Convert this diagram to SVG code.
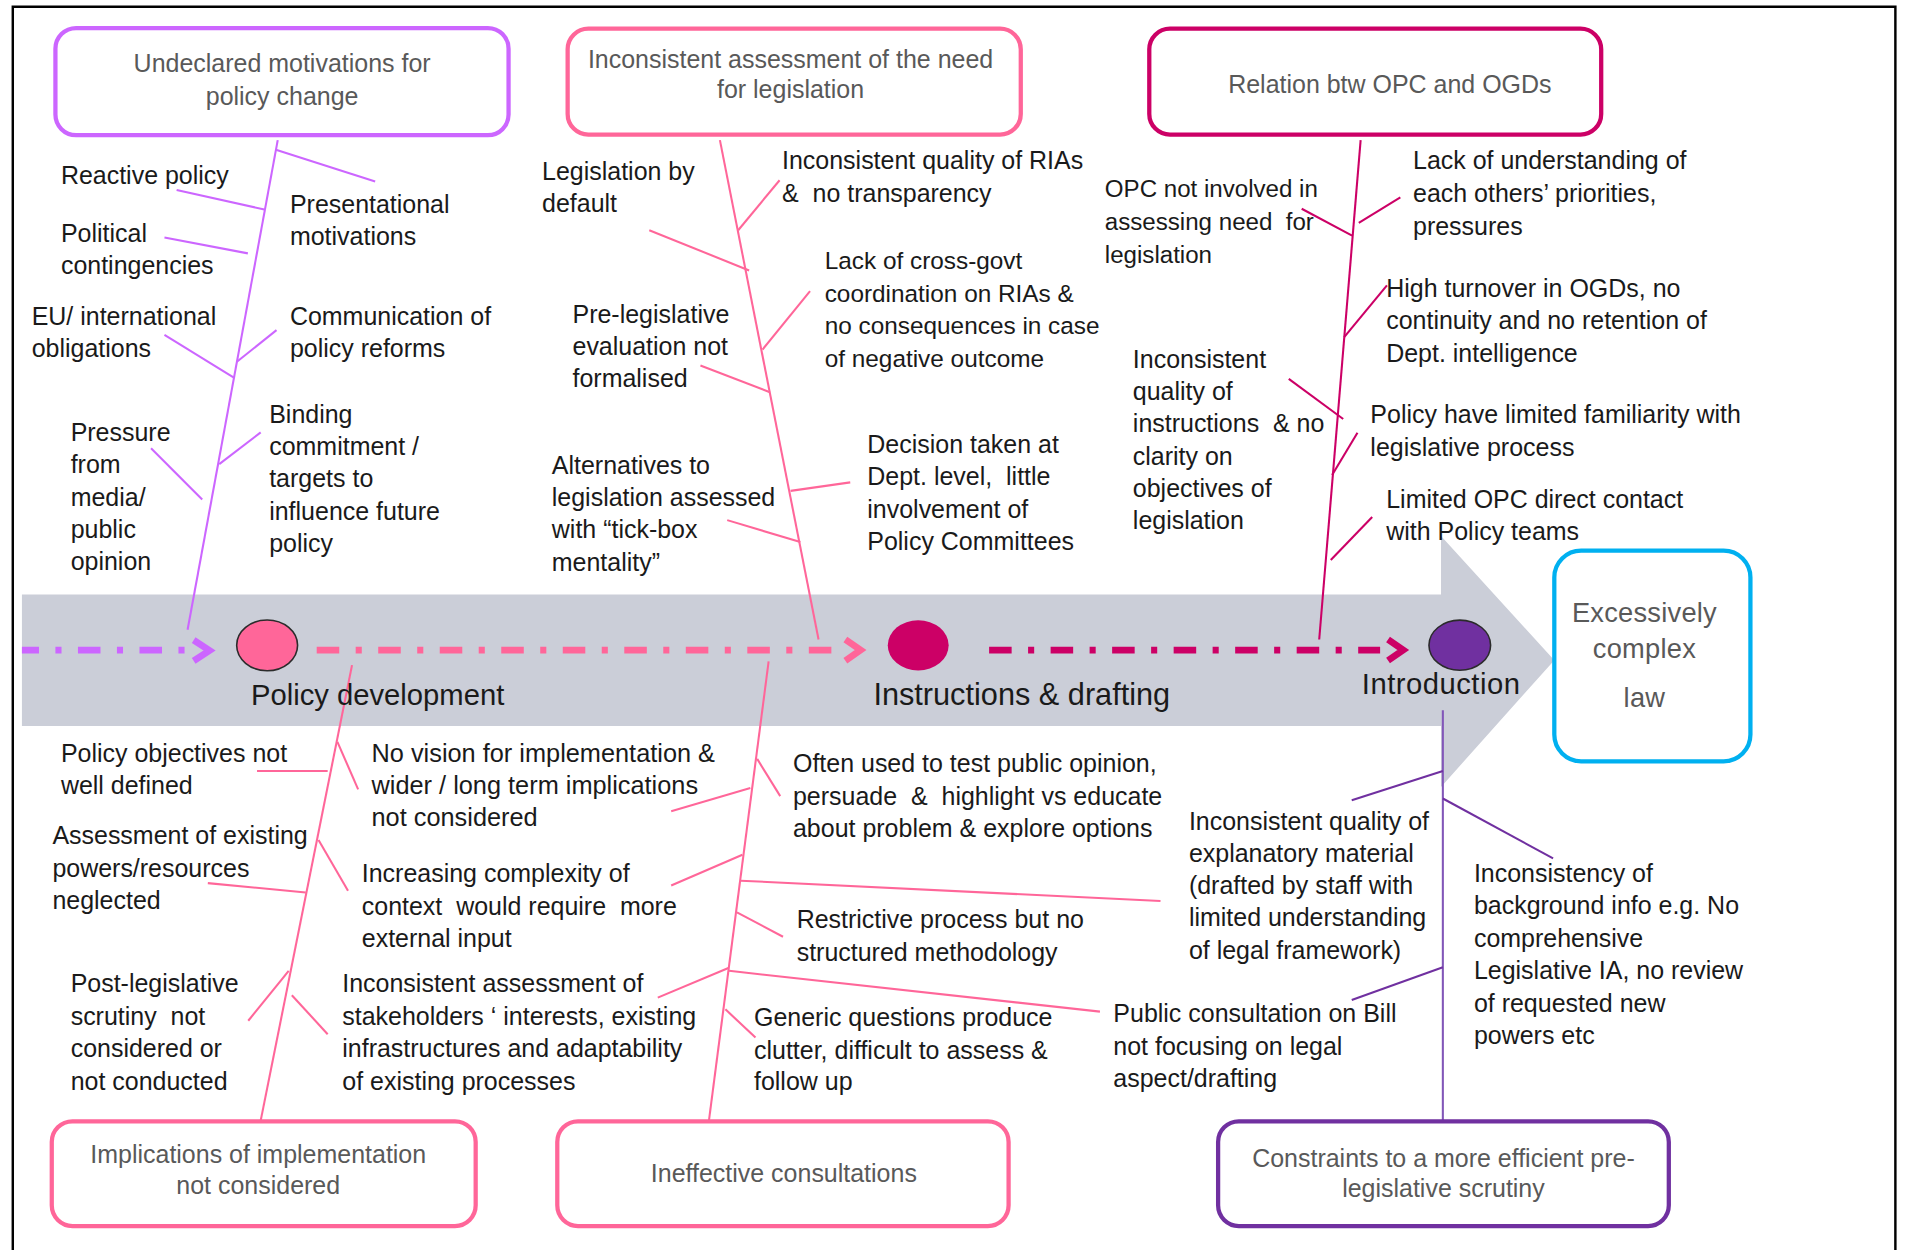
<svg xmlns="http://www.w3.org/2000/svg" width="1910" height="1250" viewBox="0 0 1910 1250">
<defs>
<style>
.t{font-family:"Liberation Sans",Arial,sans-serif;font-size:20.5px;fill:#1a1a1a}
.h{font-family:"Liberation Sans",Arial,sans-serif;font-size:20.5px;fill:#595959;text-anchor:middle}
.stage{font-family:"Liberation Sans",Arial,sans-serif;font-size:24px;fill:#1a1a1a}
.box{fill:#fff;stroke-width:3.5}
.bone{fill:none;stroke-width:1.7}
.dash{fill:none;stroke-width:5.5;stroke-dasharray:18.5 13.5 5 13.5}
.chev{fill:none;stroke-width:5.5;stroke-linejoin:miter;stroke-linecap:butt}
.vio{stroke:#cc66ff}
.pink{stroke:#ff6699}
.crim{stroke:#cc0066}
.purp{stroke:#7030a0}
</style>
</defs>
<rect width="1910" height="1250" fill="#fff"/>
<g transform="scale(1.21811)">
<path id="frame" d="M10.5,1030 V5.5 H1556 V1030" fill="none" stroke="#000" stroke-width="2"/>
<polygon id="process-arrow" points="18,488 1183,488 1183,440 1276,542 1183,646 1183,596 18,596" fill="#cbced8"/>

<g id="connectors">
<!-- top-left fishbone -->
<g class="bone vio">
<line x1="228" y1="115" x2="154" y2="517"/>
<line x1="145" y1="156" x2="217" y2="172"/>
<line x1="226.5" y1="123" x2="308" y2="149"/>
<line x1="135" y1="195" x2="203.5" y2="208"/>
<line x1="135" y1="275" x2="192" y2="310"/>
<line x1="227" y1="271" x2="194.5" y2="297"/>
<line x1="214" y1="355" x2="180" y2="381"/>
<line x1="124" y1="368" x2="166" y2="410"/>
</g>
<!-- top-middle fishbone -->
<g class="bone pink">
<line x1="591" y1="115" x2="672" y2="525"/>
<line x1="640" y1="148" x2="606" y2="189"/>
<line x1="533" y1="189" x2="615" y2="222"/>
<line x1="665" y1="239" x2="626" y2="287"/>
<line x1="575" y1="300" x2="632" y2="322"/>
<line x1="698" y1="396" x2="649" y2="403"/>
<line x1="597" y1="427" x2="657" y2="445"/>
</g>
<!-- top-right fishbone -->
<g class="bone crim">
<line x1="1117" y1="115" x2="1083" y2="525"/>
<line x1="1068.6" y1="171.4" x2="1110" y2="193.4"/>
<line x1="1149.6" y1="162" x2="1115.5" y2="183"/>
<line x1="1138.6" y1="234.3" x2="1103.5" y2="276.7"/>
<line x1="1058" y1="311" x2="1102.7" y2="344"/>
<line x1="1114.4" y1="355.3" x2="1093.6" y2="390"/>
<line x1="1126.5" y1="424.5" x2="1092.5" y2="459.7"/>
</g>
<!-- bottom-left fishbone -->
<g class="bone pink">
<line x1="289" y1="546" x2="214" y2="920"/>
<line x1="211" y1="633" x2="269" y2="633"/>
<line x1="277" y1="609" x2="294" y2="648"/>
<line x1="170.6" y1="725" x2="251" y2="732.7"/>
<line x1="261.5" y1="689.6" x2="285.7" y2="731.3"/>
<line x1="203.8" y1="838" x2="237" y2="797"/>
<line x1="239.6" y1="817" x2="269" y2="849"/>
</g>
<!-- bottom-middle fishbone -->
<g class="bone pink">
<line x1="631" y1="543" x2="582" y2="920"/>
<line x1="551" y1="666" x2="616" y2="647"/>
<line x1="621.6" y1="623" x2="640.5" y2="653.6"/>
<line x1="551" y1="727" x2="609.5" y2="701.7"/>
<line x1="608" y1="723" x2="952.7" y2="739.7"/>
<line x1="605" y1="749" x2="642.8" y2="769"/>
<line x1="540" y1="819" x2="598" y2="794.7"/>
<line x1="598.5" y1="797" x2="903" y2="830.5"/>
<line x1="595.5" y1="828.6" x2="620.2" y2="851.7"/>
</g>
<!-- bottom-right fishbone -->
<g class="bone purp">
<line x1="1184.5" y1="583" x2="1184.5" y2="920" style="stroke:#8257b8"/>
<line x1="1109.7" y1="657" x2="1184.5" y2="633"/>
<line x1="1184.5" y1="655.5" x2="1275" y2="704.7"/>
<line x1="1109.7" y1="821" x2="1184.5" y2="794"/>
</g>
<!-- process flow -->
<line class="dash vio" x1="18" y1="533.7" x2="152" y2="533.7" stroke-dashoffset="4.5"/>
<polyline class="chev vio" points="159,525.5 172,534 159,542.5"/>
<line class="dash pink" x1="260" y1="533.7" x2="684" y2="533.7"/>
<polyline class="chev pink" points="694,525 706.5,533.7 694,542.4"/>
<line class="dash crim" x1="812" y1="533.7" x2="1133" y2="533.7"/>
<polyline class="chev crim" points="1139.5,525 1152,533.6 1139.5,542.2"/>
</g>

<g id="stage-policy-development">
<ellipse cx="219.3" cy="529.8" rx="25" ry="20.8" fill="#ff6699" stroke="#2b2b2b" stroke-width="1.3"/>
<text class="stage" x="206" y="579">Policy development</text>
</g>
<g id="stage-instructions-drafting">
<ellipse cx="753.8" cy="529.8" rx="25" ry="20.6" fill="#cc0066"/>
<text class="stage" x="717" y="579" style="font-size:25.2px">Instructions &amp; drafting</text>
</g>
<g id="stage-introduction">
<ellipse cx="1198.4" cy="529.7" rx="25.3" ry="20.6" fill="#7030a0" stroke="#2b2b2b" stroke-width="1.3"/>
<text class="stage" x="1118" y="570" letter-spacing="0.4">Introduction</text>
</g>
<g id="outcome-excessively-complex-law">
<rect class="box" x="1276" y="452" width="161" height="173" rx="22" stroke="#00b0f0"/>
<text class="h" style="font-size:22.4px" letter-spacing="0.2"><tspan x="1350" y="511">Excessively</tspan><tspan x="1350" y="540">complex</tspan><tspan x="1350" y="580">law</tspan></text>
</g>

<g id="cat-undeclared-motivations">
<rect class="box vio" x="45.5" y="23" width="372" height="88" rx="17"/>
<text class="h"><tspan x="231.6" y="59.5">Undeclared motivations for</tspan><tspan x="231.6" y="86.5">policy change</tspan></text>
</g>
<g id="cat-inconsistent-assessment">
<rect class="box pink" x="466" y="23.5" width="372" height="87" rx="17"/>
<text class="h"><tspan x="649" y="56">Inconsistent assessment of the need</tspan><tspan x="649" y="80.5">for legislation</tspan></text>
</g>
<g id="cat-relation-opc-ogds">
<rect class="box crim" x="943.5" y="23.5" width="371" height="87" rx="17"/>
<text class="h" x="1141" y="76.5">Relation btw OPC and OGDs</text>
</g>
<g id="cat-implications">
<rect class="box pink" x="42.5" y="920.5" width="348" height="86" rx="17"/>
<text class="h"><tspan x="212" y="955">Implications of implementation</tspan><tspan x="212" y="980">not considered</tspan></text>
</g>
<g id="cat-ineffective-consultations">
<rect class="box pink" x="457.5" y="920.5" width="370.5" height="86" rx="17"/>
<text class="h" x="643.5" y="970">Ineffective consultations</text>
</g>
<g id="cat-constraints">
<rect class="box purp" x="1000" y="920.5" width="370" height="86" rx="17"/>
<text class="h"><tspan x="1185" y="958">Constraints to a more efficient pre-</tspan><tspan x="1185" y="983">legislative scrutiny</tspan></text>
</g>

<g id="cause-reactive-policy"><text class="t" x="50" y="151">Reactive policy</text></g>
<g id="cause-presentational"><text class="t"><tspan x="238" y="175">Presentational</tspan><tspan x="238" y="201">motivations</tspan></text></g>
<g id="cause-political"><text class="t"><tspan x="50" y="199">Political</tspan><tspan x="50" y="225">contingencies</tspan></text></g>
<g id="cause-eu"><text class="t"><tspan x="26" y="267">EU/ international</tspan><tspan x="26" y="293">obligations</tspan></text></g>
<g id="cause-communication"><text class="t"><tspan x="238" y="267">Communication of</tspan><tspan x="238" y="293">policy reforms</tspan></text></g>
<g id="cause-binding"><text class="t"><tspan x="221" y="347">Binding</tspan><tspan x="221" y="373.5">commitment /</tspan><tspan x="221" y="400">targets to</tspan><tspan x="221" y="426.5">influence future</tspan><tspan x="221" y="453">policy</tspan></text></g>
<g id="cause-pressure"><text class="t"><tspan x="58" y="362">Pressure</tspan><tspan x="58" y="388.5">from</tspan><tspan x="58" y="415">media/</tspan><tspan x="58" y="441.5">public</tspan><tspan x="58" y="468">opinion</tspan></text></g>

<g id="cause-legislation-default"><text class="t"><tspan x="445" y="148">Legislation by</tspan><tspan x="445" y="174">default</tspan></text></g>
<g id="cause-rias"><text class="t" xml:space="preserve"><tspan x="642" y="139">Inconsistent quality of RIAs</tspan><tspan x="642" y="166">&amp;  no transparency</tspan></text></g>
<g id="cause-cross-govt"><text class="t" style="font-size:20px"><tspan x="677" y="221">Lack of cross-govt</tspan><tspan x="677" y="248">coordination on RIAs &amp;</tspan><tspan x="677" y="274.5">no consequences in case</tspan><tspan x="677" y="301">of negative outcome</tspan></text></g>
<g id="cause-pre-legislative"><text class="t"><tspan x="470" y="265">Pre-legislative</tspan><tspan x="470" y="291.5">evaluation not</tspan><tspan x="470" y="318">formalised</tspan></text></g>
<g id="cause-alternatives"><text class="t"><tspan x="453" y="389">Alternatives to</tspan><tspan x="453" y="415.5">legislation assessed</tspan><tspan x="453" y="442">with “tick-box</tspan><tspan x="453" y="468.5">mentality”</tspan></text></g>
<g id="cause-decision"><text class="t" xml:space="preserve"><tspan x="712" y="372">Decision taken at</tspan><tspan x="712" y="398.5">Dept. level,  little</tspan><tspan x="712" y="425">involvement of</tspan><tspan x="712" y="451.5">Policy Committees</tspan></text></g>

<g id="cause-opc-not-involved"><text class="t" style="font-size:19.8px" xml:space="preserve"><tspan x="907" y="162">OPC not involved in</tspan><tspan x="907" y="189">assessing need  for</tspan><tspan x="907" y="216">legislation</tspan></text></g>
<g id="cause-lack-understanding"><text class="t"><tspan x="1160" y="139">Lack of understanding of</tspan><tspan x="1160" y="166">each others’ priorities,</tspan><tspan x="1160" y="193">pressures</tspan></text></g>
<g id="cause-high-turnover"><text class="t"><tspan x="1138" y="244">High turnover in OGDs, no</tspan><tspan x="1138" y="270.5">continuity and no retention of</tspan><tspan x="1138" y="297">Dept. intelligence</tspan></text></g>
<g id="cause-instructions-quality"><text class="t" xml:space="preserve"><tspan x="930" y="302">Inconsistent</tspan><tspan x="930" y="328.5">quality of</tspan><tspan x="930" y="355">instructions  &amp; no</tspan><tspan x="930" y="381.5">clarity on</tspan><tspan x="930" y="408">objectives of</tspan><tspan x="930" y="434.5">legislation</tspan></text></g>
<g id="cause-familiarity"><text class="t"><tspan x="1125" y="347">Policy have limited familiarity with</tspan><tspan x="1125" y="374">legislative process</tspan></text></g>
<g id="cause-limited-contact"><text class="t"><tspan x="1138" y="417">Limited OPC direct contact</tspan><tspan x="1138" y="443">with Policy teams</tspan></text></g>

<g id="cause-objectives"><text class="t"><tspan x="50" y="625.5">Policy objectives not</tspan><tspan x="50" y="652">well defined</tspan></text></g>
<g id="cause-no-vision"><text class="t" style="font-size:20.8px"><tspan x="305" y="625.5">No vision for implementation &amp;</tspan><tspan x="305" y="652">wider / long term implications</tspan><tspan x="305" y="678.5">not considered</tspan></text></g>
<g id="cause-assessment-powers"><text class="t"><tspan x="43" y="692.5">Assessment of existing</tspan><tspan x="43" y="720">powers/resources</tspan><tspan x="43" y="746.5">neglected</tspan></text></g>
<g id="cause-complexity"><text class="t" xml:space="preserve"><tspan x="297" y="724">Increasing complexity of</tspan><tspan x="297" y="751">context  would require  more</tspan><tspan x="297" y="777.5">external input</tspan></text></g>
<g id="cause-post-legislative"><text class="t" xml:space="preserve"><tspan x="58" y="814.5">Post-legislative</tspan><tspan x="58" y="841.5">scrutiny  not</tspan><tspan x="58" y="868">considered or</tspan><tspan x="58" y="894.5">not conducted</tspan></text></g>
<g id="cause-stakeholders"><text class="t"><tspan x="281" y="814.5">Inconsistent assessment of</tspan><tspan x="281" y="841.5">stakeholders ‘ interests, existing</tspan><tspan x="281" y="868">infrastructures and adaptability</tspan><tspan x="281" y="894.5">of existing processes</tspan></text></g>

<g id="cause-public-opinion"><text class="t" xml:space="preserve"><tspan x="651" y="634">Often used to test public opinion,</tspan><tspan x="651" y="660.5">persuade  &amp;  highlight vs educate</tspan><tspan x="651" y="687">about problem &amp; explore options</tspan></text></g>
<g id="cause-restrictive"><text class="t"><tspan x="654" y="762">Restrictive process but no</tspan><tspan x="654" y="789">structured methodology</tspan></text></g>
<g id="cause-generic"><text class="t"><tspan x="619" y="842.5">Generic questions produce</tspan><tspan x="619" y="869">clutter, difficult to assess &amp;</tspan><tspan x="619" y="895">follow up</tspan></text></g>

<g id="cause-explanatory"><text class="t"><tspan x="976" y="681">Inconsistent quality of</tspan><tspan x="976" y="707.5">explanatory material</tspan><tspan x="976" y="734">(drafted by staff with</tspan><tspan x="976" y="760.5">limited understanding</tspan><tspan x="976" y="787">of legal framework)</tspan></text></g>
<g id="cause-public-consultation"><text class="t"><tspan x="914" y="839">Public consultation on Bill</tspan><tspan x="914" y="866">not focusing on legal</tspan><tspan x="914" y="892">aspect/drafting</tspan></text></g>
<g id="cause-background"><text class="t"><tspan x="1210" y="724">Inconsistency of</tspan><tspan x="1210" y="750.7">background info e.g. No</tspan><tspan x="1210" y="777.4">comprehensive</tspan><tspan x="1210" y="804">Legislative IA, no review</tspan><tspan x="1210" y="830.7">of requested new</tspan><tspan x="1210" y="857.4">powers etc</tspan></text></g>
</g>
</svg>
